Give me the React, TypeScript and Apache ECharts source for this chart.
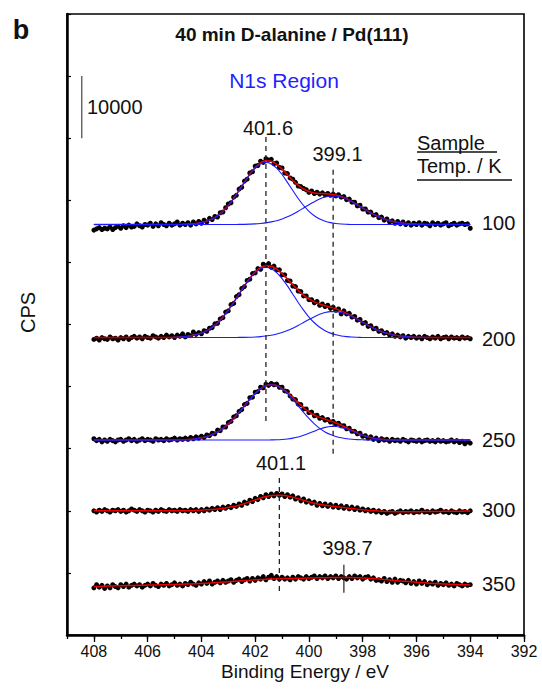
import React, { useEffect, useRef } from "react";
import * as echarts from "echarts";

const FONT = "'Liberation Sans', Arial, Helvetica, sans-serif";

// Sample temperatures (K), one spectrum each, top to bottom
const temperatures = ["100", "200", "250", "300", "350"];
// Vertical stacking offset of each spectrum (kCPS)
const offsets = [66.1, 47.9, 31.4, 20.0, 7.8];

// Measured points: binding energy 408.0 -> 394.0 eV in 0.1 eV steps,
// intensity above the spectrum's own baseline (kCPS)
const dots100 = [
  -0.9, -0.7, -0.5, -0.8, -0.6, -0.7, -0.4, -0.8, -0.5, -0.3,
  -0.6, -0.2, -0.5, -0.1, -0.4, -0.3, 0.1, -0.2, -0.4, 0.0,
  -0.1, 0.2, -0.3, 0.1, -0.2, 0.3, 0.0, -0.2, 0.2, -0.1,
  0.1, 0.4, -0.1, 0.2, 0.0, 0.3, -0.1, 0.4, 0.1, 0.5,
  0.2, 0.7, 0.4, 1.0, 0.8, 1.3, 1.2, 1.9, 2.0, 2.7,
  3.3, 3.5, 4.4, 4.7, 5.7, 6.0, 7.0, 7.3, 8.3, 8.5,
  9.4, 9.5, 10.2, 10.0, 10.6, 10.4, 10.5, 9.8, 9.9, 9.2,
  9.1, 8.3, 8.2, 7.5, 7.3, 6.8, 6.2, 6.1, 5.8, 5.6,
  5.2, 5.4, 5.0, 5.2, 4.9, 5.1, 4.8, 5.0, 4.7, 4.9,
  4.6, 4.8, 4.4, 4.5, 4.0, 4.1, 3.6, 3.6, 3.0, 3.1,
  2.5, 2.5, 2.0, 2.0, 1.5, 1.6, 1.1, 1.2, 0.7, 0.9,
  0.4, 0.6, 0.2, 0.5, 0.1, 0.4, 0.0, 0.3, -0.1, 0.2,
  0.0, 0.3, -0.1, 0.2, 0.1, -0.2, 0.3, 0.0, 0.2, -0.1,
  0.1, 0.3, -0.2, 0.0, 0.2, -0.1, 0.1, 0.2, 0.0, 0.1,
  -0.6,
];
const dots200 = [
  -0.3, -0.1, -0.4, 0.0, -0.2, -0.3, 0.1, -0.2, -0.1, -0.4,
  0.0, -0.2, 0.1, -0.3, 0.0, 0.2, -0.1, 0.1, -0.2, 0.2,
  0.0, -0.1, 0.3, 0.1, -0.1, 0.2, 0.0, 0.4, 0.1, 0.3,
  0.0, 0.4, 0.2, 0.6, 0.1, 0.5, 0.3, 0.9, 0.5, 0.8,
  0.6, 1.1, 1.0, 1.5, 1.6, 2.2, 2.3, 3.0, 3.2, 4.1,
  4.3, 5.3, 5.5, 6.6, 6.9, 7.9, 8.2, 9.2, 9.4, 10.3,
  10.4, 11.1, 11.0, 11.8, 11.6, 11.9, 11.3, 11.5, 10.9, 10.9,
  10.1, 10.1, 9.2, 9.1, 8.3, 8.2, 7.5, 7.4, 6.7, 6.7,
  6.1, 6.1, 5.6, 5.8, 5.2, 5.4, 5.0, 5.2, 4.7, 4.9,
  4.4, 4.6, 3.8, 4.3, 3.8, 3.9, 3.3, 3.4, 2.8, 2.9,
  2.3, 2.4, 1.8, 1.9, 1.4, 1.5, 1.0, 1.1, 0.7, 0.8,
  0.4, 0.6, 0.2, 0.4, 0.1, 0.3, -0.1, 0.2, 0.0, 0.2,
  -0.1, 0.1, -0.2, 0.2, 0.0, -0.2, 0.1, -0.1, 0.2, -0.2,
  0.0, 0.1, -0.2, 0.1, -0.1, 0.0, -0.2, 0.1, -0.1, 0.0,
  -0.2,
];
const dots250 = [
  0.2, -0.1, 0.1, -0.3, 0.0, -0.2, 0.1, -0.1, -0.3, 0.0,
  0.1, -0.2, 0.0, 0.2, -0.1, 0.1, -0.2, 0.0, 0.2, -0.1,
  0.1, 0.0, -0.2, 0.2, 0.0, 0.1, -0.1, 0.2, 0.0, 0.1,
  0.3, 0.0, 0.2, 0.1, 0.3, 0.1, 0.4, 0.2, 0.5, 0.3,
  0.6, 0.4, 0.8, 0.7, 1.1, 1.0, 1.6, 1.5, 2.1, 2.1,
  2.8, 3.0, 3.7, 3.9, 4.6, 4.9, 5.7, 5.9, 6.8, 6.9,
  7.7, 7.8, 8.5, 8.4, 9.0, 8.8, 9.1, 8.9, 9.0, 8.5,
  8.5, 7.9, 7.8, 7.1, 6.6, 6.5, 5.8, 5.7, 5.0, 5.0,
  4.4, 4.5, 3.9, 4.0, 3.5, 3.6, 3.2, 3.3, 2.9, 3.0,
  2.6, 2.7, 2.3, 2.3, 1.8, 1.9, 1.4, 1.4, 1.0, 1.1,
  0.6, 0.7, 0.3, 0.5, 0.1, 0.3, -0.1, 0.2, 0.0, 0.1,
  -0.2, 0.1, -0.1, 0.0, -0.2, 0.1, -0.1, -0.3, 0.0, -0.1,
  -0.2, 0.0, -0.3, -0.1, 0.0, -0.2, -0.1, -0.3, 0.0, -0.2,
  -0.1, -0.3, -0.2, 0.0, -0.3, -0.1, -0.4, -0.2, -0.6, -0.3,
  -0.5,
];
const dots300 = [
  0.0, -0.2, 0.1, -0.1, 0.2, 0.0, -0.2, 0.1, 0.0, 0.2,
  -0.1, 0.1, -0.2, 0.0, 0.3, 0.1, -0.1, 0.2, 0.0, -0.2,
  0.1, 0.0, -0.2, 0.1, -0.1, 0.2, 0.0, -0.1, 0.2, 0.0,
  0.1, -0.1, 0.2, 0.0, 0.1, -0.1, 0.2, 0.0, 0.2, -0.1,
  0.2, 0.0, 0.3, 0.1, 0.4, 0.2, 0.5, 0.2, 0.6, 0.4,
  0.7, 0.5, 0.9, 0.7, 1.1, 0.9, 1.4, 1.2, 1.7, 1.5,
  2.0, 1.8, 2.3, 2.1, 2.6, 2.3, 2.7, 2.4, 2.8, 2.5,
  2.7, 2.3, 2.6, 2.2, 2.4, 1.9, 2.1, 1.6, 1.9, 1.4,
  1.6, 1.2, 1.4, 0.9, 1.2, 0.8, 1.1, 0.7, 1.0, 0.6,
  0.9, 0.5, 0.8, 0.4, 0.7, 0.3, 0.6, 0.2, 0.5, 0.1,
  0.3, 0.0, 0.2, -0.1, 0.1, -0.2, 0.0, -0.3, -0.1, -0.4,
  -0.2, -0.1, -0.4, -0.2, 0.0, -0.3, -0.1, -0.2, 0.0, -0.3,
  -0.1, -0.2, 0.1, -0.2, -0.1, -0.3, 0.0, -0.2, -0.1, 0.1,
  -0.2, -0.1, -0.3, 0.0, -0.2, -0.3, 0.0, -0.2, -0.1, -0.3,
  0.0,
];
const dots350 = [
  -0.2, 0.3, -0.1, 0.2, -0.3, 0.1, -0.2, 0.3, 0.0, -0.2,
  0.3, 0.0, 0.4, -0.1, 0.2, 0.4, 0.1, 0.3, -0.1, 0.2,
  0.4, 0.1, 0.5, 0.2, 0.0, 0.4, 0.2, 0.5, 0.1, 0.3,
  0.6, 0.2, 0.4, 0.1, 0.5, 0.3, 0.7, 0.4, 0.2, 0.6,
  0.4, 0.8, 0.5, 0.9, 0.4, 0.7, 0.9, 0.6, 1.0, 0.7,
  0.9, 1.1, 0.7, 1.0, 1.2, 0.8, 1.1, 1.3, 0.9, 1.3,
  1.0, 1.4, 1.2, 1.6, 1.1, 1.5, 1.8, 1.3, 1.6, 1.2,
  1.5, 1.2, 1.4, 1.1, 1.5, 1.2, 1.6, 1.4, 1.2, 1.6,
  1.3, 1.5, 1.7, 1.3, 1.6, 1.4, 1.7, 1.3, 1.6, 1.4,
  1.7, 1.3, 1.6, 1.4, 1.2, 1.6, 1.3, 1.7, 1.4, 1.6,
  1.2, 1.5, 1.6, 1.2, 1.4, 1.0, 1.1, 0.9, 1.3, 0.8,
  1.1, 0.7, 1.2, 0.7, 1.0, 0.9, 0.6, 1.0, 0.5, 0.8,
  0.4, 0.9, 0.5, 0.8, 0.3, 0.6, 0.4, 0.7, 0.2, 0.5,
  0.3, 0.6, 0.2, 0.4, 0.1, 0.5, 0.3, 0.1, 0.4, 0.2,
  0.3,
];

// Fit curves: binding energy 408.0 -> 394.0 eV in 0.2 eV steps (kCPS above baseline)
const fitTotal100 = [
  0, 0, 0, 0, 0, 0, 0, 0, 0, 0, 0, 0, 0, 0, 0, 0, 0,
  0.04, 0.09, 0.17, 0.31, 0.54, 0.89, 1.41, 2.13, 3.06, 4.20, 5.49, 6.82, 8.11, 9.18, 9.93,
  10.27, 10.18, 9.70, 8.95, 8.03, 7.13, 6.33, 5.72, 5.32, 5.09, 5.00, 4.96, 4.89, 4.75, 4.51,
  4.15, 3.70, 3.19, 2.66, 2.14, 1.66, 1.24, 0.90, 0.62, 0.42, 0.27, 0.17, 0.10, 0.06, 0.03,
  0, 0, 0, 0, 0, 0, 0, 0, 0,
];
const fitPeakA100 = [
  0, 0, 0, 0, 0, 0, 0, 0, 0, 0, 0, 0, 0, 0, 0, 0, 0,
  0.04, 0.09, 0.17, 0.31, 0.54, 0.89, 1.41, 2.13, 3.06, 4.19, 5.47, 6.79, 8.05, 9.08, 9.76,
  10.0, 9.76, 9.08, 8.05, 6.79, 5.47, 4.19, 3.06, 2.13, 1.41, 0.89, 0.54, 0.31, 0.17, 0.09, 0.04,
  0, 0, 0, 0, 0, 0, 0, 0, 0, 0, 0, 0, 0, 0, 0, 0, 0, 0, 0, 0, 0, 0, 0,
];
const fitPeakB100 = [
  0, 0, 0, 0, 0, 0, 0, 0, 0, 0, 0, 0, 0, 0, 0, 0, 0, 0, 0, 0, 0, 0, 0, 0, 0, 0, 0,
  0.02, 0.03, 0.06, 0.10, 0.17, 0.27, 0.42, 0.62, 0.90, 1.24, 1.66, 2.14, 2.66, 3.19, 3.68,
  4.11, 4.42, 4.58, 4.58, 4.42, 4.11, 3.68, 3.19, 2.66, 2.14, 1.66, 1.24, 0.90, 0.62, 0.42,
  0.27, 0.17, 0.10, 0.06, 0.03,
  0, 0, 0, 0, 0, 0, 0, 0, 0,
];
const fitTotal200 = [
  0, 0, 0, 0, 0, 0, 0, 0, 0, 0, 0, 0, 0, 0, 0,
  0.04, 0.08, 0.15, 0.26, 0.44, 0.71, 1.10, 1.65, 2.38, 3.30, 4.41, 5.65, 7.00, 8.34, 9.55,
  10.55, 11.24, 11.55, 11.47, 11.03, 10.32, 9.44, 8.49, 7.60, 6.84, 6.21, 5.74, 5.40, 5.13,
  4.89, 4.62, 4.29, 3.90, 3.44, 2.95, 2.43, 1.95, 1.51, 1.13, 0.82, 0.57, 0.38, 0.25, 0.15,
  0.09, 0.05, 0.03, 0.02,
  0, 0, 0, 0, 0, 0, 0, 0,
];
const fitPeakA200 = [
  0, 0, 0, 0, 0, 0, 0, 0, 0, 0, 0, 0, 0, 0, 0,
  0.04, 0.08, 0.15, 0.26, 0.44, 0.71, 1.10, 1.65, 2.38, 3.30, 4.41, 5.65, 6.98, 8.31, 9.50,
  10.46, 11.09, 11.30, 11.09, 10.46, 9.50, 8.31, 6.98, 5.65, 4.41, 3.30, 2.38, 1.65, 1.10,
  0.71, 0.44, 0.26, 0.15, 0.08, 0.04,
  0, 0, 0, 0, 0, 0, 0, 0, 0, 0, 0, 0, 0, 0, 0, 0, 0, 0, 0, 0, 0,
];
const fitPeakB200 = [
  0, 0, 0, 0, 0, 0, 0, 0, 0, 0, 0, 0, 0, 0, 0, 0, 0, 0, 0, 0, 0, 0, 0, 0, 0, 0, 0,
  0.02, 0.03, 0.05, 0.09, 0.15, 0.25, 0.38, 0.57, 0.82, 1.13, 1.51, 1.95, 2.43, 2.91, 3.36,
  3.75, 4.03, 4.18, 4.18, 4.03, 3.75, 3.36, 2.91, 2.43, 1.95, 1.51, 1.13, 0.82, 0.57, 0.38,
  0.25, 0.15, 0.09, 0.05, 0.03, 0.02,
  0, 0, 0, 0, 0, 0, 0, 0,
];
const fitTotal250 = [
  0, 0, 0, 0, 0, 0, 0, 0, 0, 0, 0, 0, 0, 0, 0, 0,
  0.03, 0.06, 0.12, 0.21, 0.35, 0.56, 0.87, 1.30, 1.88, 2.60, 3.47, 4.45, 5.50, 6.54, 7.48,
  8.24, 8.73, 8.92, 8.77, 8.33, 7.65, 6.84, 5.99, 5.20, 4.54, 4.02, 3.64, 3.33, 3.05, 2.74,
  2.38, 1.97, 1.54, 1.13, 0.78, 0.49, 0.30, 0.17, 0.09, 0.04, 0.02,
  0, 0, 0, 0, 0, 0, 0, 0, 0, 0, 0, 0, 0, 0,
];
const fitPeakA250 = [
  0, 0, 0, 0, 0, 0, 0, 0, 0, 0, 0, 0, 0, 0, 0, 0,
  0.03, 0.06, 0.12, 0.21, 0.35, 0.56, 0.87, 1.30, 1.88, 2.60, 3.47, 4.45, 5.50, 6.54, 7.48,
  8.24, 8.73, 8.90, 8.73, 8.24, 7.48, 6.54, 5.50, 4.45, 3.47, 2.60, 1.88, 1.30, 0.87, 0.56,
  0.35, 0.21, 0.12, 0.06, 0.03,
  0, 0, 0, 0, 0, 0, 0, 0, 0, 0, 0, 0, 0, 0, 0, 0, 0, 0, 0, 0,
];
const fitPeakB250 = [
  0, 0, 0, 0, 0, 0, 0, 0, 0, 0, 0, 0, 0, 0, 0, 0, 0, 0, 0, 0, 0, 0, 0, 0, 0, 0, 0, 0, 0, 0, 0, 0, 0,
  0.02, 0.04, 0.09, 0.17, 0.30, 0.49, 0.75, 1.07, 1.42, 1.76, 2.03, 2.18, 2.18, 2.03, 1.76,
  1.42, 1.07, 0.75, 0.49, 0.30, 0.17, 0.09, 0.04, 0.02,
  0, 0, 0, 0, 0, 0, 0, 0, 0, 0, 0, 0, 0, 0,
];
const fitTotal300 = [
  0, 0, 0, 0, 0, 0, 0, 0, 0, 0, 0, 0, 0, 0, 0, 0, 0, 0, 0,
  0.05, 0.10, 0.15, 0.22, 0.30, 0.40, 0.55, 0.70, 0.90, 1.15, 1.45, 1.75, 2.05, 2.30, 2.45,
  2.52, 2.50, 2.40, 2.20, 1.95, 1.70, 1.45, 1.22, 1.05, 0.90, 0.78, 0.68, 0.57, 0.47, 0.37,
  0.27, 0.18, 0.10, 0.03, -0.03, -0.08, -0.12, -0.15, -0.16, -0.16, -0.15, -0.14, -0.13,
  -0.12, -0.11, -0.10, -0.09, -0.08, -0.07, -0.06, -0.05, -0.05,
];
const fitTotal350 = [
  0.0, 0.03, 0.06, 0.09, 0.12, 0.14, 0.16, 0.18, 0.20, 0.22, 0.24, 0.26, 0.28, 0.30, 0.32,
  0.35, 0.37, 0.40, 0.42, 0.45, 0.50, 0.55, 0.60, 0.66, 0.72, 0.78, 0.84, 0.90, 0.96, 1.02,
  1.08, 1.13, 1.18, 1.22, 1.25, 1.27, 1.29, 1.31, 1.33, 1.35, 1.37, 1.39, 1.41, 1.43, 1.44,
  1.45, 1.45, 1.45, 1.44, 1.42, 1.39, 1.34, 1.28, 1.21, 1.13, 1.05, 0.97, 0.90, 0.84, 0.77,
  0.70, 0.64, 0.58, 0.52, 0.47, 0.42, 0.38, 0.34, 0.31, 0.29, 0.27,
];

// Peak-position markers (eV) and their vertical extents (kCPS, absolute)
const dashEnergies = [401.6, 399.1, 401.1];
const dashTops = [80.2, 74.9, 25.3];
const dashBottoms = [34.1, 28.7, 6.8];
const tickEnergy = 398.7;
const tickRange = [6.8, 11.3];
// Intensity scale bar: 10000 CPS
const scaleBarEnergy = 408.45;
const scaleBarRange = [80, 90];
const scaleBarLabel = "10000";

const xTicks = [392, 409];

export default function App() {
  const ref = useRef<HTMLDivElement>(null);

  useEffect(() => {
    if (!ref.current) return;
    const chart = echarts.init(ref.current, null, { renderer: "svg" });

    const dotE = dots100.map((_, i) => Math.round((408 - 0.1 * i) * 10) / 10);
    const fitE = fitTotal100.map((_, j) => Math.round((408 - 0.2 * j) * 10) / 10);

    const dotSets = [dots100, dots200, dots250, dots300, dots350];
    const totals = [fitTotal100, fitTotal200, fitTotal250, fitTotal300, fitTotal350];
    const comps = [
      [fitPeakA100, fitPeakB100],
      [fitPeakA200, fitPeakB200],
      [fitPeakA250, fitPeakB250],
    ];

    const series: any[] = [];
    dotSets.forEach((d, k) => {
      series.push({
        type: "scatter",
        data: d.map((v, i) => [dotE[i], offsets[k] + v]),
        symbol: "circle",
        symbolSize: 5,
        itemStyle: { color: "#000", opacity: 1 },
        silent: true,
        z: 2,
      });
    });
    totals.forEach((t, k) => {
      series.push({
        type: "line",
        data: t.map((v, j) => [fitE[j], offsets[k] + v]),
        showSymbol: false,
        smooth: 0.3,
        lineStyle: { color: "#ee0000", width: 1.5 },
        silent: true,
        z: 3,
      });
    });
    comps.forEach((pair, k) => {
      pair.forEach((c) => {
        series.push({
          type: "line",
          data: c.map((v, j) => [fitE[j], offsets[k] + v]),
          showSymbol: false,
          smooth: 0.3,
          lineStyle: { color: "#1a1aff", width: 1.1 },
          silent: true,
          z: 4,
        });
      });
    });
    dashEnergies.forEach((e, k) => {
      series.push({
        type: "line",
        data: [
          [e, dashTops[k]],
          [e, dashBottoms[k]],
        ],
        showSymbol: false,
        lineStyle: { color: "#222", width: 1.3, type: [5, 4] },
        silent: true,
        z: 5,
      });
    });
    series.push({
      type: "line",
      data: [
        [tickEnergy, tickRange[0]],
        [tickEnergy, tickRange[1]],
      ],
      showSymbol: false,
      lineStyle: { color: "#222", width: 1.2 },
      silent: true,
      z: 5,
    });
    series.push({
      type: "line",
      data: [
        [scaleBarEnergy, scaleBarRange[0]],
        [scaleBarEnergy, scaleBarRange[1]],
      ],
      showSymbol: false,
      lineStyle: { color: "#444", width: 1.2 },
      silent: true,
      z: 5,
    });

    const txt = (
      text: string,
      x: number,
      y: number,
      size: number,
      o: { bold?: boolean; color?: string; align?: string; rot?: number } = {}
    ) => ({
      type: "text",
      x,
      y,
      rotation: o.rot || 0,
      silent: true,
      z: 10,
      style: {
        text,
        font: `${o.bold ? "bold " : ""}${size}px ${FONT}`,
        fill: o.color || "#111",
        align: o.align || "center",
        verticalAlign: "middle",
        textAlign: o.align || "center",
        textVerticalAlign: "middle",
      },
    });
    const uline = (x1: number, x2: number, y: number) => ({
      type: "line",
      silent: true,
      z: 10,
      shape: { x1, y1: y, x2, y2: y },
      style: { stroke: "#111", lineWidth: 1.5 },
    });

    const labelYs = [222.5, 339, 440, 510, 583.5];
    const graphic: any[] = [
      txt("b", 21, 30, 27, { bold: true }),
      txt("40 min D-alanine / Pd(111)", 292, 34, 19, { bold: true }),
      txt("N1s Region", 284, 80.5, 21, { color: "#1f1fff" }),
      txt(scaleBarLabel, 87, 107, 20, { align: "left" }),
      txt("401.6", 268, 128, 20),
      txt("399.1", 337.5, 154, 20),
      txt("401.1", 281, 462.5, 20),
      txt("398.7", 347.5, 547.5, 20),
      txt("Sample ", 417, 143, 20, { align: "left" }),
      uline(417, 497, 152),
      txt("Temp. / K", 417, 166, 20, { align: "left" }),
      uline(417, 512, 180),
      txt("CPS", 27.5, 312.5, 20, { rot: Math.PI / 2 }),
      txt("Binding Energy / eV", 305, 671, 19),
    ];
    temperatures.forEach((t, k) => graphic.push(txt(t, 482, labelYs[k], 20, { align: "left" })));

    chart.setOption({
      animation: false,
      backgroundColor: "#fff",
      grid: {
        left: 67,
        right: 18,
        top: 14,
        bottom: 62,
        show: true,
        borderColor: "#000",
        borderWidth: 1.6,
        backgroundColor: "transparent",
      },
      xAxis: [
        {
          type: "value",
          min: xTicks[0],
          max: xTicks[1],
          interval: 2,
          inverse: true,
          axisLine: { show: true, onZero: false, lineStyle: { color: "#000", width: 2.5 } },
          axisTick: { show: true, length: 7, lineStyle: { color: "#000", width: 1.3 } },
          axisLabel: {
            fontSize: 16,
            lineHeight: 16,
            color: "#111",
            fontFamily: FONT,
            margin: 8,
            showMaxLabel: false,
          },
          splitLine: { show: false },
        },
        {
          type: "value",
          min: xTicks[0],
          max: xTicks[1],
          interval: 1,
          inverse: true,
          position: "bottom",
          axisLine: { show: false, onZero: false },
          axisTick: { show: true, length: 4, lineStyle: { color: "#000", width: 1.3 } },
          axisLabel: { show: false },
          splitLine: { show: false },
        },
      ],
      yAxis: {
        type: "value",
        min: 0,
        max: 100,
        interval: 10,
        axisLine: { show: true, onZero: false, lineStyle: { color: "#000", width: 2.5 } },
        axisTick: { show: true, inside: true, length: 4, lineStyle: { color: "#000", width: 1.2 } },
        axisLabel: { show: false },
        splitLine: { show: false },
      },
      series,
      graphic,
    });

    return () => chart.dispose();
  }, []);

  return (
    <div
      ref={ref}
      style={{ position: "absolute", left: 0, top: 0, width: 542, height: 697 }}
    />
  );
}
